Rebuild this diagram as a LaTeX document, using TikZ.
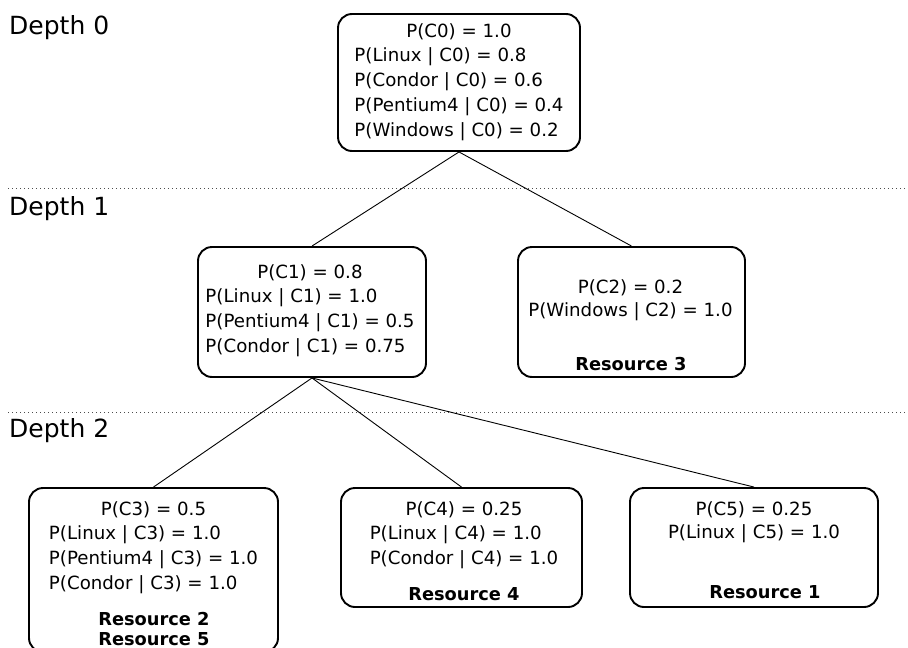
\documentclass[tikz,border=0pt]{standalone}
\usepackage{fontspec}
\setmainfont{DejaVu Sans}
\usetikzlibrary{positioning}
\tikzset{
  box/.style={draw,line width=1.9pt,rounded corners=14pt,inner sep=0pt},
  prob/.style={anchor=base,inner sep=0pt,font=\fontsize{18.2}{24.75}\selectfont},
  res/.style={anchor=base,inner sep=0pt,font=\fontsize{17.8}{20}\selectfont\bfseries,align=center},
  lvl/.style={anchor=base west,inner sep=0pt,font=\fontsize{25}{28}\selectfont},
  sep/.style={draw=black!70,line width=.8pt,dash pattern=on .8pt off 3.2pt},
  edge/.style={draw,line width=.9pt}
}
\begin{document}
\begin{tikzpicture}[x=1pt,y=-1pt]
  \clip (0,0) rectangle (908,648);

  \node[lvl] (d0) at (9,34) {Depth 0};
  \node[lvl] (d1) at (9,215) {Depth 1};
  \node[lvl] (d2) at (9,437) {Depth 2};
  \draw[sep] (8,188)--(908,188);
  \draw[sep] (8,412)--(908,412);

  \node[box,minimum width=242,minimum height=137] (c0) at (459,82.5) {};
  \node[box,minimum width=228,minimum height=130] (c1) at (312,312) {};
  \node[box,minimum width=227,minimum height=130] (c2) at (631.5,312) {};
  \node[box,minimum width=249,minimum height=164] (c3) at (153.5,570) {};
  \node[box,minimum width=241,minimum height=119] (c4) at (461.5,547.5) {};
  \node[box,minimum width=248,minimum height=119] (c5) at (754,547.5) {};

  \node[prob] (c0p) at (459,37) {\begin{tabular}[t]{@{}l@{}}\multicolumn{1}{@{}c@{}}{P(C0) = 1.0}\\
    P(Linux | C0) = 0.8\\ P(Condor | C0) = 0.6\\ P(Pentium4 | C0) = 0.4\\ P(Windows | C0) = 0.2\end{tabular}};
  \node[prob] (c1p) at (310,278) {\begin{tabular}[t]{@{}l@{}}\multicolumn{1}{@{}c@{}}{P(C1) = 0.8}\\
    P(Linux | C1) = 1.0\\ P(Pentium4 | C1) = 0.5\\ P(Condor | C1) = 0.75\end{tabular}};
  \node[prob] (c2p) at (630.5,293) {\begin{tabular}[t]{@{}c@{}}P(C2) = 0.2\\[-1.5pt] P(Windows | C2) = 1.0\end{tabular}};
  \node[prob] (c3p) at (153.5,515) {\begin{tabular}[t]{@{}l@{}}\multicolumn{1}{@{}c@{}}{P(C3) = 0.5}\\
    P(Linux | C3) = 1.0\\ P(Pentium4 | C3) = 1.0\\ P(Condor | C3) = 1.0\end{tabular}};
  \node[prob] (c4p) at (464,515) {\begin{tabular}[t]{@{}l@{}}\multicolumn{1}{@{}c@{}}{P(C4) = 0.25}\\
    P(Linux | C4) = 1.0\\ P(Condor | C4) = 1.0\end{tabular}};
  \node[prob] (c5p) at (754,515) {\begin{tabular}[t]{@{}c@{}}P(C5) = 0.25\\[-1.5pt] P(Linux | C5) = 1.0\end{tabular}};

  \node[res] (r3) at (631,370) {Resource 3};
  \node[res] (r25) at (154,625) {Resource 2};
  \node[res] (r5) at (154,645) {Resource 5};
  \node[res] (r4) at (464,600) {Resource 4};
  \node[res] (r1) at (765,598) {Resource 1};

  \draw[edge] (c0.south)--(c1.north);
  \draw[edge] (c0.south)--(c2.north);
  \draw[edge] (c1.south)--(c3.north);
  \draw[edge] (c1.south)--(c4.north);
  \draw[edge] (c1.south)--(c5.north);
\end{tikzpicture}
\end{document}
